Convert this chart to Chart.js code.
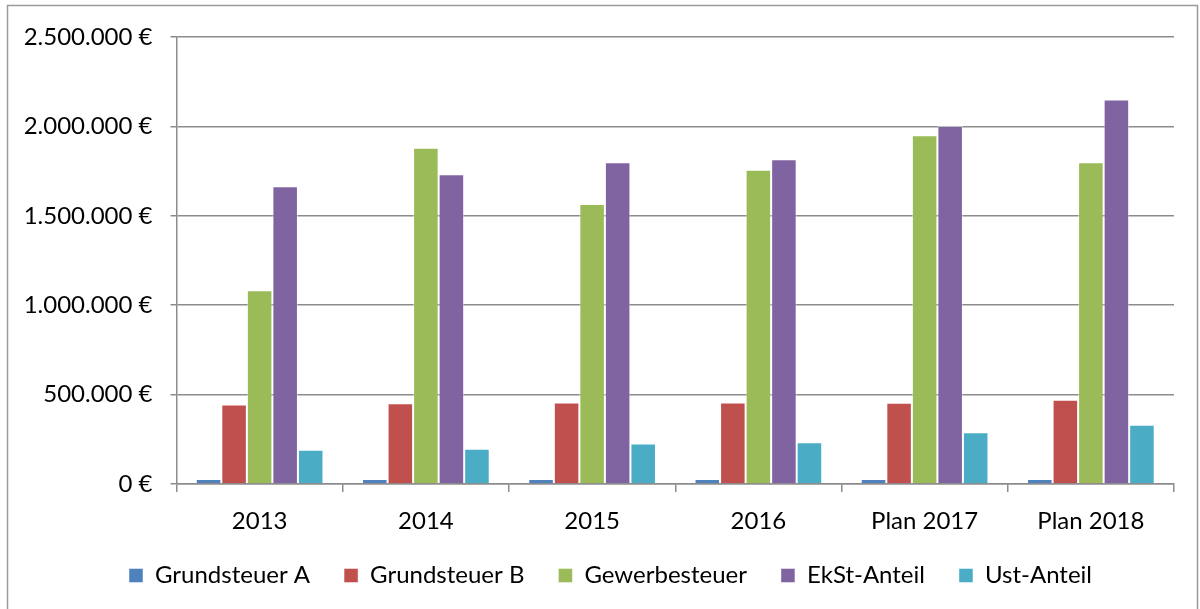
<!DOCTYPE html>
<html lang="de">
<head>
<meta charset="UTF-8">
<title>Steuereinnahmen</title>
<script src="https://cdn.jsdelivr.net/npm/chart.js"></script>
<style>
  html, body { margin: 0; padding: 0; background: #fff; }
  #wrap { width: 1200px; height: 609px; position: relative; }
</style>
</head>
<body>
<div id="wrap"><canvas id="chartSteuern" width="1200" height="609"></canvas></div>
<script>
// Jahre (Kategorien)
const jahre = ['2013', '2014', '2015', '2016', 'Plan 2017', 'Plan 2018'];

// Werte je Steuerart
const grundsteuerA = [28000, 28000, 28000, 28000, 28000, 28000];
const grundsteuerB = [445000, 451000, 456000, 456000, 455000, 471000];
const gewerbesteuer = [1084000, 1881000, 1566000, 1758000, 1950000, 1799000];
const ekstAnteil = [1665000, 1732000, 1799000, 1816000, 2002000, 2151000];
const ustAnteil = [192000, 197000, 227000, 233000, 289000, 331000];

// Achse
const yTicks = [0, 500000, 1000000, 1500000, 2000000, 2500000];

const schrift = 'Lato, "Open Sans", sans-serif';
const gitterFarbe = '#8c8c8c';

function euro(v) {
    return v.toLocaleString('de-DE') + ' €';
}

// Rahmen um das ganze Diagramm
const rahmen = {
    id: 'rahmen',
    beforeDraw(chart) {
        const ctx = chart.ctx;
        ctx.save();
        ctx.fillStyle = '#fff';
        ctx.fillRect(0, 0, chart.width, chart.height);
        ctx.strokeStyle = '#9a9a9a';
        ctx.lineWidth = 1.5;
        ctx.beginPath();
        ctx.moveTo(7.5, chart.height);
        ctx.lineTo(7.5, 5.5);
        ctx.lineTo(1197.5, 5.5);
        ctx.lineTo(1197.5, chart.height);
        ctx.stroke();
        ctx.restore();
    }
};

function reihe(label, data, farbe) {
    return {
        label: label,
        data: data,
        backgroundColor: farbe,
        borderColor: 'rgba(255,255,255,0.45)',
        borderWidth: 1,
        barPercentage: 1.0,
        categoryPercentage: 0.768
    };
}

new Chart(document.getElementById('chartSteuern'), {
    type: 'bar',
    data: {
        labels: jahre,
        datasets: [
            reihe('Grundsteuer A', grundsteuerA, '#4F81BD'),
            reihe('Grundsteuer B', grundsteuerB, '#C0504D'),
            reihe('Gewerbesteuer', gewerbesteuer, '#9BBB59'),
            reihe('EkSt-Anteil', ekstAnteil, '#8064A2'),
            reihe('Ust-Anteil', ustAnteil, '#4BACC6')
        ]
    },
    options: {
        responsive: false,
        animation: false,
        devicePixelRatio: 1,
        layout: { padding: { top: 37, right: 0, left: 21, bottom: 11.5 } },
        plugins: {
            tooltip: { enabled: false },
            legend: {
                position: 'bottom',
                labels: {
                    boxWidth: 14,
                    boxHeight: 14,
                    padding: 34,
                    color: '#000',
                    font: { family: schrift, size: 24 }
                }
            }
        },
        scales: {
            x: {
                grid: {
                    drawOnChartArea: false,
                    offset: true,
                    tickLength: 8,
                    color: gitterFarbe,
                    lineWidth: 1.5
                },
                border: { color: gitterFarbe, width: 1.5 },
                ticks: {
                    color: '#000',
                    padding: 14.5,
                    maxRotation: 0,
                    font: { family: schrift, size: 24 }
                },
                afterFit(scale) { scale.height = 45.5; }
            },
            y: {
                min: 0,
                max: 2500000,
                afterBuildTicks(scale) {
                    scale.ticks = yTicks.map(v => ({ value: v }));
                },
                grid: {
                    color: gitterFarbe,
                    lineWidth: 1.5,
                    tickLength: 6
                },
                border: { color: gitterFarbe, width: 1.5 },
                ticks: {
                    color: '#000',
                    padding: 18,
                    font: { family: schrift, size: 24 },
                    callback: v => euro(v)
                },
                afterFit(scale) { scale.width = 155.5; }
            },
            // leere Achse rechts, nur als Abstand
            rechts: {
                type: 'linear',
                position: 'right',
                grid: { display: false },
                border: { display: false },
                ticks: { display: false },
                afterFit(scale) { scale.width = 26; }
            }
        }
    },
    plugins: [rahmen]
});
</script>
</body>
</html>
